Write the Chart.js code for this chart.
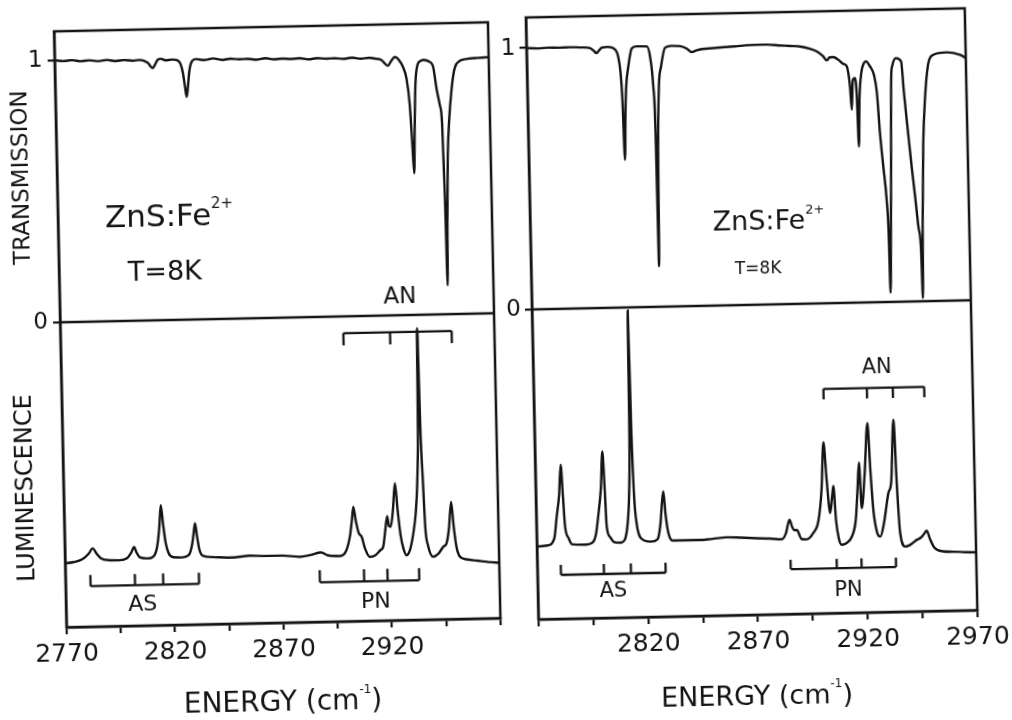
<!DOCTYPE html>
<html>
<head>
<meta charset="utf-8">
<script src="https://cdn.jsdelivr.net/npm/chart.js@4.4.1/dist/chart.umd.min.js"></script>
<style>
  html, body { margin: 0; padding: 0; background: #fff; overflow: hidden; }
  #page { position: absolute; left: 0; top: 0; width: 1012px; height: 720px;
          transform: rotate(-1.2deg); transform-origin: 506px 360px; }
  #page canvas { position: absolute; top: 0; }
  #leftCanvas { left: 0; }
  #rightCanvas { left: 506px; }
</style>
</head>
<body>
<div id="page">
  <canvas id="leftCanvas" width="506" height="720"></canvas>
  <canvas id="rightCanvas" width="506" height="720"></canvas>
</div>
<script>
// energy axis, cm-1
const energyMin = 2770, energyMax = 2970, energyStep = 25;
const leftTickLabels = [2770, 2820, 2870, 2920];
const rightTickLabels = [2820, 2870, 2920, 2970];

// [energy, transmission]
const leftTransmission = [
  [2770, 1.000], [2774, 0.996], [2778, 0.999], [2782, 0.994], [2786, 0.997], [2790, 0.993],
  [2794, 0.997], [2798, 0.992], [2802, 0.995], [2806, 0.992], [2809, 0.994], [2811, 0.991],
  [2813, 0.982], [2814.2, 0.968], [2815.1, 0.962], [2816.2, 0.975], [2817.5, 0.994], [2819, 0.997],
  [2821, 0.991], [2824, 0.993], [2826.5, 0.990], [2828, 0.975], [2829, 0.940], [2829.8, 0.890],
  [2830.5, 0.850], [2831.2, 0.890], [2832, 0.950], [2833.2, 0.985], [2835, 0.993], [2839, 0.989],
  [2843, 0.994], [2847, 0.988], [2851, 0.992], [2855, 0.989], [2859, 0.990], [2863, 0.986],
  [2867, 0.991], [2871, 0.986], [2875, 0.988], [2879, 0.986], [2883, 0.988], [2887, 0.983],
  [2891, 0.987], [2895, 0.984], [2899, 0.985], [2903, 0.982], [2907, 0.986], [2911, 0.981],
  [2915, 0.984], [2918, 0.980], [2920.5, 0.975], [2922, 0.962], [2923.5, 0.952], [2925, 0.970],
  [2926.8, 0.985], [2928.5, 0.975], [2930.5, 0.945], [2932, 0.900], [2933.2, 0.800], [2934, 0.650],
  [2934.6, 0.540], [2935.2, 0.700], [2936, 0.880], [2937.2, 0.955], [2938.5, 0.968], [2940, 0.972],
  [2942.5, 0.965], [2944.3, 0.945], [2945.7, 0.860], [2947, 0.800], [2947.9, 0.730], [2948.5, 0.450],
  [2948.9, 0.110], [2949.4, 0.350], [2950.2, 0.600], [2951.3, 0.750], [2952.5, 0.850], [2953.5, 0.910],
  [2954.5, 0.944], [2956.8, 0.966], [2960, 0.972], [2965, 0.975], [2970, 0.977]
];

// [energy, luminescence] left panel, arbitrary units (0 = bottom frame, 1 = divider)
const leftLuminescence = [
  [2770, 0.210], [2774, 0.213], [2778, 0.222], [2781, 0.240], [2782.8, 0.257], [2784.5, 0.240],
  [2786.5, 0.224], [2790, 0.217], [2795, 0.216], [2798.5, 0.222], [2800.5, 0.240], [2801.9, 0.258],
  [2803, 0.240], [2804.5, 0.224], [2808, 0.220], [2811, 0.228], [2812.6, 0.260], [2813.7, 0.320],
  [2814.6, 0.394], [2815.5, 0.330], [2816.5, 0.270], [2817.8, 0.235], [2820, 0.222], [2824, 0.221],
  [2827, 0.228], [2828.6, 0.260], [2829.5, 0.300], [2830.2, 0.332], [2831, 0.290], [2832, 0.245],
  [2833.5, 0.225], [2838, 0.220], [2847.5, 0.217], [2855, 0.222], [2862.9, 0.220], [2870, 0.220],
  [2878.2, 0.215], [2883, 0.220], [2888, 0.228], [2891, 0.218], [2896.7, 0.215], [2899.5, 0.230],
  [2901.5, 0.280], [2902.5, 0.330], [2903.3, 0.375], [2904.3, 0.330], [2905.5, 0.290], [2906.9, 0.276],
  [2908.2, 0.240], [2910.5, 0.210], [2913, 0.215], [2915.5, 0.232], [2916.7, 0.242], [2917.7, 0.290],
  [2918.8, 0.342], [2919.5, 0.310], [2920.3, 0.307], [2921.5, 0.360], [2922.7, 0.449], [2923.7, 0.360],
  [2924.8, 0.280], [2926, 0.235], [2927.4, 0.213], [2929, 0.230], [2930.7, 0.284], [2932, 0.350],
  [2933, 0.450], [2933.8, 0.620], [2934.4, 0.956], [2935, 0.600], [2935.5, 0.480], [2936.3, 0.300],
  [2937.3, 0.245], [2939.6, 0.206], [2942, 0.215], [2944.4, 0.238], [2945.9, 0.249], [2947.2, 0.300],
  [2948.4, 0.385], [2949.4, 0.300], [2950.5, 0.235], [2951.9, 0.205], [2955, 0.195], [2960, 0.190],
  [2965, 0.185], [2970, 0.182]
];

// [energy, transmission] right panel
const rightTransmission = [
  [2770, 1.000], [2775, 0.998], [2780, 1.000], [2785, 0.999], [2790, 1.000], [2795, 0.998],
  [2798.9, 0.995], [2800.5, 0.985], [2801.9, 0.975], [2803, 0.985], [2804.3, 0.996], [2807, 0.998],
  [2810, 0.990], [2811.7, 0.960], [2812.6, 0.900], [2813.2, 0.800], [2813.8, 0.565], [2814.5, 0.750],
  [2815.1, 0.850], [2816.2, 0.921], [2817.9, 0.990], [2820, 0.998], [2824.8, 0.997], [2826.2, 0.958],
  [2827.4, 0.843], [2828.0, 0.660], [2828.3, 0.155], [2829.0, 0.600], [2830.0, 0.850], [2831.1, 0.918],
  [2833.1, 0.990], [2836, 0.997], [2840, 0.995], [2843, 0.985], [2845.2, 0.971], [2847.5, 0.978],
  [2850, 0.982], [2855, 0.985], [2860, 0.988], [2865, 0.990], [2870, 0.993], [2875, 0.994],
  [2879.5, 0.994], [2885, 0.990], [2890, 0.987], [2894.6, 0.984], [2899, 0.975], [2902.2, 0.964],
  [2905, 0.945], [2906.6, 0.929], [2908, 0.940], [2909.6, 0.941], [2912, 0.930], [2914, 0.915],
  [2915.7, 0.905], [2917, 0.827], [2917.6, 0.738], [2918.3, 0.850], [2919.3, 0.859], [2920.0, 0.790],
  [2920.5, 0.597], [2921.2, 0.780], [2922.3, 0.880], [2923.5, 0.915], [2924.5, 0.922], [2926.3, 0.902],
  [2928, 0.870], [2929.2, 0.800], [2930.2, 0.647], [2931.4, 0.519], [2932.6, 0.393], [2933.2, 0.265],
  [2933.5, 0.035], [2934.2, 0.250], [2934.9, 0.500], [2935.5, 0.750], [2935.9, 0.870], [2936.5, 0.905],
  [2938.1, 0.932], [2940.5, 0.919], [2941.5, 0.800], [2942.5, 0.696], [2944.3, 0.517], [2945.6, 0.402],
  [2946.8, 0.287], [2947.8, 0.198], [2948.2, 0.012], [2948.8, 0.300], [2949.8, 0.600], [2951, 0.770],
  [2952.9, 0.910], [2955.3, 0.942], [2961.4, 0.950], [2967.4, 0.940], [2970, 0.927]
];

// [energy, luminescence] right panel
const rightLuminescence = [
  [2770, 0.235], [2775, 0.238], [2778, 0.260], [2779.3, 0.330], [2780.6, 0.400], [2781.6, 0.497],
  [2782.3, 0.400], [2783, 0.300], [2784.5, 0.260], [2786, 0.240], [2792, 0.238], [2795.5, 0.245],
  [2797, 0.270], [2798.2, 0.328], [2799.7, 0.420], [2800.7, 0.537], [2801.4, 0.420], [2802, 0.295],
  [2803.5, 0.260], [2805, 0.245], [2808, 0.242], [2810, 0.250], [2811.5, 0.300], [2812.5, 0.400],
  [2813.2, 0.600], [2813.6, 0.990], [2814.1, 0.600], [2814.7, 0.400], [2815.7, 0.300], [2817.5, 0.255],
  [2822, 0.243], [2825, 0.250], [2826.5, 0.300], [2827.4, 0.370], [2828.1, 0.404], [2828.9, 0.330],
  [2830, 0.270], [2832.2, 0.245], [2838, 0.245], [2844.3, 0.245], [2850, 0.248], [2856.6, 0.252],
  [2863, 0.250], [2870.2, 0.247], [2876, 0.245], [2881.6, 0.242], [2883.5, 0.260], [2885.3, 0.304],
  [2886.5, 0.280], [2887.5, 0.270], [2888.5, 0.271], [2890.7, 0.241], [2893, 0.240], [2896, 0.260],
  [2898.5, 0.300], [2900.2, 0.400], [2901.5, 0.552], [2902.6, 0.430], [2903.9, 0.323], [2905, 0.380],
  [2905.6, 0.411], [2906.5, 0.300], [2907.6, 0.240], [2908.9, 0.220], [2911, 0.225], [2913.5, 0.245],
  [2915.5, 0.300], [2916.6, 0.400], [2917.5, 0.484], [2918.3, 0.337], [2920, 0.450], [2921.7, 0.611],
  [2922.6, 0.460], [2923.6, 0.330], [2925, 0.260], [2926.5, 0.244], [2928.3, 0.287], [2930.6, 0.384],
  [2932, 0.420], [2933.6, 0.620], [2934.5, 0.415], [2935.6, 0.254], [2937.8, 0.210], [2940, 0.215],
  [2943.1, 0.231], [2945, 0.238], [2946.5, 0.250], [2947.7, 0.260], [2949, 0.235], [2951, 0.205],
  [2955, 0.192], [2960, 0.190], [2965, 0.188], [2970, 0.187]
];

// assignment brackets (peak energies)
const leftAS = [2781.5, 2802, 2815, 2831.5];
const leftPN = [2887.2, 2907.6, 2918.4, 2933];
const leftAN = [2900.4, 2921.9, 2934.5, 2950.3];
const rightAS = [2780.7, 2800.3, 2812.6, 2828.4];
const rightPN = [2885.4, 2906.4, 2917.7, 2933.4];
const rightAN = [2902, 2921.8, 2933.6, 2947.9];

const ink = '#141414';
const FONT = "'DejaVu Sans', sans-serif";
Chart.defaults.color = ink;
Chart.defaults.font.family = FONT;

function toPoints(arr) { return arr.map(p => ({ x: p[0], y: p[1] })); }

// draws a run of text pieces [text, size, raise] starting/centred at x
function drawRich(ctx, parts, x, y, align, baseline) {
  ctx.textBaseline = baseline;
  ctx.textAlign = 'left';
  let total = 0;
  const widths = parts.map(p => { ctx.font = p[1] + 'px ' + FONT; const w = ctx.measureText(p[0]).width; total += w; return w; });
  let cx = align === 'center' ? x - total / 2 : x;
  parts.forEach((p, i) => {
    ctx.font = p[1] + 'px ' + FONT;
    ctx.fillText(p[0], cx, y - (p[2] || 0));
    cx += widths[i];
  });
}

function buildPanel(canvasId, p) {
  const frame = {
    id: 'frame',
    afterDraw(chart) {
      const { ctx, chartArea: a, scales } = chart;
      const X = v => scales.x.getPixelForValue(v);
      ctx.save();
      ctx.strokeStyle = ink;
      ctx.fillStyle = ink;
      ctx.lineWidth = 2.5;
      ctx.strokeRect(a.left, a.top, a.right - a.left, a.bottom - a.top);
      const yDiv = scales.yT.getPixelForValue(0);
      ctx.beginPath();
      ctx.moveTo(a.left, yDiv);
      ctx.lineTo(a.right, yDiv);
      ctx.stroke();

      ctx.lineWidth = 2.3;
      p.brackets.forEach(b => {
        const s = scales[b.axis];
        const y0 = s.getPixelForValue(b.at), y1 = s.getPixelForValue(b.tip);
        const xs = b.energies.map(X);
        ctx.beginPath();
        ctx.moveTo(xs[0], y0);
        ctx.lineTo(xs[xs.length - 1], y0);
        xs.forEach(x => { ctx.moveTo(x, y0); ctx.lineTo(x, y1); });
        ctx.stroke();
      });

      p.labels.forEach(l => {
        drawRich(ctx, l.parts, X(l.e), scales[l.axis].getPixelForValue(l.v), l.align || 'center', l.baseline || 'middle');
      });

      p.titles.forEach(t => {
        ctx.save();
        ctx.translate(t.x, t.y);
        if (t.vertical) ctx.rotate(-Math.PI / 2);
        drawRich(ctx, t.parts, 0, 0, 'center', 'middle');
        ctx.restore();
      });
      ctx.restore();
    }
  };

  const fixSize = size => s => {
    if (s.isHorizontal()) s.height = size; else s.width = size;
    s.paddingLeft = 0; s.paddingRight = 0; s.paddingTop = 0; s.paddingBottom = 0;
  };

  const line = { borderColor: ink, borderWidth: 2.4, pointRadius: 0, cubicInterpolationMode: 'monotone', fill: false };

  return new Chart(document.getElementById(canvasId), {
    type: 'line',
    data: {
      datasets: [
        Object.assign({ data: toPoints(p.lum), yAxisID: 'yL' }, line),
        Object.assign({ data: toPoints(p.trans), yAxisID: 'yT' }, line)
      ]
    },
    options: {
      responsive: false,
      animation: false,
      layout: { padding: p.padding },
      plugins: { legend: { display: false }, tooltip: { enabled: false } },
      scales: {
        x: {
          type: 'linear', min: energyMin, max: energyMax,
          afterFit: fixSize(p.xHeight),
          border: { display: true, color: ink, width: 2.5 },
          grid: { drawOnChartArea: false, drawTicks: true, tickLength: 7, color: ink, lineWidth: 2.2 },
          ticks: {
            stepSize: energyStep, autoSkip: false, maxRotation: 0, padding: 5,
            font: { size: 25 }, color: ink,
            callback: v => p.tickLabels.includes(v) ? String(v) : ''
          }
        },
        yL: {
          type: 'linear', position: 'left', stack: 'panel', stackWeight: p.lumWeight, weight: 0,
          min: 0, max: 1,
          afterFit: fixSize(p.yWidth),
          border: { display: true, color: ink, width: 2.5 },
          grid: { display: false },
          ticks: { display: false }
        },
        yT: {
          type: 'linear', position: 'left', stack: 'panel', stackWeight: p.transWeight, weight: 1,
          min: 0, max: p.transMax,
          afterFit: fixSize(p.yWidth),
          border: { display: true, color: ink, width: 2.5 },
          grid: { drawOnChartArea: false, drawTicks: true, tickLength: 7, color: ink, lineWidth: 2.2 },
          ticks: { stepSize: 1, includeBounds: false, padding: p.yPad, font: { size: 23 }, color: ink }
        }
      }
    },
    plugins: [frame]
  });
}

buildPanel('leftCanvas', {
  trans: leftTransmission, lum: leftLuminescence, tickLabels: leftTickLabels,
  padding: { top: 22, right: 11, bottom: 0, left: 0 },
  xHeight: 102, yWidth: 61, yPad: 5, transMax: 1.11, transWeight: 291, lumWeight: 305,
  brackets: [
    { energies: leftAS, axis: 'yL', at: 0.133, tip: 0.17 },
    { energies: leftPN, axis: 'yL', at: 0.13, tip: 0.17 },
    { energies: leftAN, axis: 'yL', at: 0.945, tip: 0.905 }
  ],
  labels: [
    { parts: [['AS', 22]], e: 2805.4, v: 0.068, axis: 'yL' },
    { parts: [['PN', 22]], e: 2912.8, v: 0.062, axis: 'yL' },
    { parts: [['AN', 23]], e: 2926.8, v: 0.07, axis: 'yT' },
    { parts: [['ZnS:Fe', 31], ['2+', 15, 17]], e: 2791.7, v: 0.36, axis: 'yT', align: 'left', baseline: 'alphabetic' },
    { parts: [['T=8K', 27]], e: 2801.7, v: 0.152, axis: 'yT', align: 'left', baseline: 'alphabetic' }
  ],
  titles: [
    { parts: [['TRANSMISSION', 23]], x: 26, y: 167.5, vertical: true },
    { parts: [['LUMINESCENCE', 24]], x: 24, y: 478, vertical: true },
    { parts: [['ENERGY (cm', 28], ['-1', 12, 12], [')', 28]], x: 276, y: 699 }
  ]
});

buildPanel('rightCanvas', {
  trans: rightTransmission, lum: rightLuminescence, tickLabels: rightTickLabels,
  padding: { top: 18, right: 40, bottom: 0, left: 0 },
  xHeight: 100, yWidth: 27, yPad: 4, transMax: 1.117, transWeight: 292, lumWeight: 310,
  brackets: [
    { energies: rightAS, axis: 'yL', at: 0.142, tip: 0.174 },
    { energies: rightPN, axis: 'yL', at: 0.145, tip: 0.175 },
    { energies: rightAN, axis: 'yL', at: 0.724, tip: 0.69 }
  ],
  labels: [
    { parts: [['AS', 21]], e: 2804.4, v: 0.084, axis: 'yL' },
    { parts: [['PN', 21]], e: 2911.5, v: 0.074, axis: 'yL' },
    { parts: [['AN', 21]], e: 2926.5, v: 0.788, axis: 'yL' },
    { parts: [['ZnS:Fe', 27], ['2+', 13, 15]], e: 2853.2, v: 0.285, axis: 'yT', align: 'left', baseline: 'alphabetic' },
    { parts: [['T=8K', 17]], e: 2862.8, v: 0.117, axis: 'yT', align: 'left', baseline: 'alphabetic' }
  ],
  titles: [
    { parts: [['ENERGY (cm', 27], ['-1', 12, 12], [')', 27]], x: 244, y: 703 }
  ]
});
</script>
</body>
</html>
